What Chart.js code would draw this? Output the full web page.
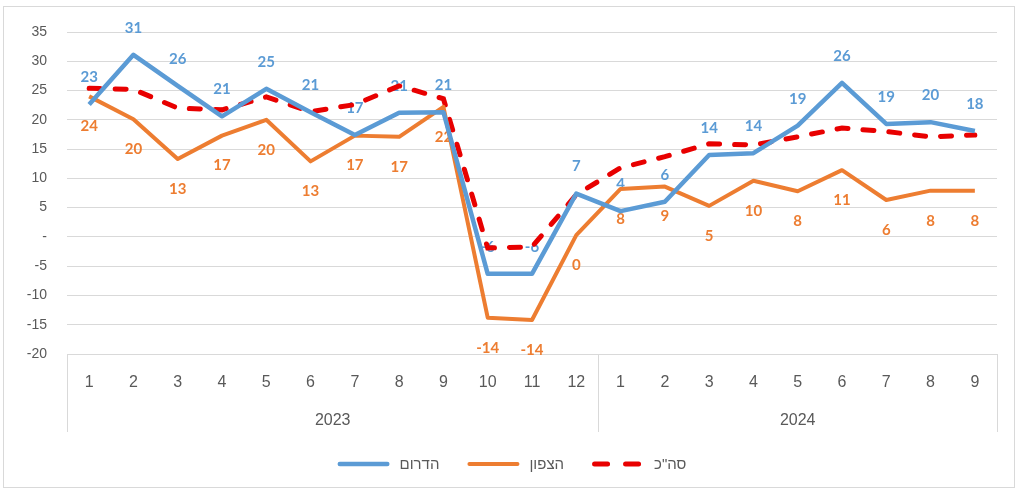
<!DOCTYPE html>
<html><head><meta charset="utf-8">
<script src="https://cdn.jsdelivr.net/npm/chart.js@4.4.0/dist/chart.umd.min.js"></script>
<style>html,body{margin:0;padding:0;background:#fff;}#wrap{width:1020px;height:493px;}</style>
</head><body><div id="wrap"><canvas id="c" width="1020" height="493"></canvas></div>
<script>
const months = ['1','2','3','4','5','6','7','8','9','10','11','12','1','2','3','4','5','6','7','8','9'];
const years = ['2023','2024'];
const monthsPerYear = [12, 9];
const southValues = [22.6,31.1,25.8,20.6,25.3,21.3,17.4,21.2,21.3,-6.3,-6.3,7.4,4.4,6.0,14.0,14.3,19.0,26.3,19.3,19.6,18.1];
const northValues = [24.0,20.1,13.3,17.3,20.0,12.9,17.3,17.1,22.2,-13.8,-14.2,0.3,8.2,8.6,5.3,9.6,7.8,11.4,6.3,7.9,7.9];
const totalValues = [25.4,25.2,22.0,21.7,23.9,21.4,22.6,25.8,23.6,-1.9,-1.7,7.2,11.8,13.7,15.9,15.7,17.1,18.6,18.0,17.1,17.4];
const seriesNames = ['הדרום','הצפון','סה"כ'];
const yMin = -20, yMax = 35, yStep = 5;

// year group centres and boundaries (in category index units)
const yearCenters = [], yearBounds = [-0.5];
(function(){ let s = 0; monthsPerYear.forEach(n => { yearCenters.push(s + (n - 1) / 2); s += n; yearBounds.push(s - 0.5); }); })();

const Y_FONT = {family: 'Liberation Sans', size: 14};
const X_FONT = {family: 'Liberation Sans', size: 16};
const AXIS_COLOR = '#595959';
const GRID_COLOR = '#d9d9d9';

const labelOffsets = [-27, 30, null];
const labelColors = ['#5B9BD5', '#ED7D31', null];

const frame = {
  id: 'frame',
  beforeDraw(chart) {
    const ctx = chart.ctx;
    ctx.save();
    ctx.strokeStyle = GRID_COLOR; ctx.lineWidth = 1;
    ctx.strokeRect(3.5, 6.5, 1011, 481);
    ctx.restore();
  },
  afterDraw(chart) {
    const ctx = chart.ctx, x = chart.scales.x, yr = chart.scales.year;
    ctx.save();
    ctx.strokeStyle = GRID_COLOR; ctx.lineWidth = 1;
    yearBounds.forEach(b => {
      const px = Math.round(x.getPixelForValue(b)) + 0.5;
      ctx.beginPath(); ctx.moveTo(px, x.top); ctx.lineTo(px, yr.top + 38); ctx.stroke();
    });
    // legend
    ctx.font = '15px "Liberation Sans"';
    ctx.textBaseline = 'middle'; ctx.textAlign = 'left';
    const lineW = 52, gapLT = 10, gapItem = 28;
    const ds = chart.data.datasets;
    const widths = ds.map(d => ctx.measureText(d.label).width);
    const total = widths.reduce((a, w) => a + lineW + gapLT + w, 0) + gapItem * (ds.length - 1);
    let lx = 512 - total / 2;
    const ly = 464;
    ds.forEach((d, i) => {
      ctx.strokeStyle = d.borderColor; ctx.lineWidth = d.borderWidth;
      ctx.lineCap = 'round';
      if (d.borderDash) ctx.setLineDash([13, 18]); else ctx.setLineDash([]);
      const r = d.borderWidth / 2;
      ctx.beginPath(); ctx.moveTo(lx + r, ly); ctx.lineTo(lx + lineW - r, ly); ctx.stroke();
      ctx.setLineDash([]);
      ctx.fillStyle = AXIS_COLOR;
      ctx.fillText(d.label, lx + lineW + gapLT, ly + 1);
      lx += lineW + gapLT + widths[i] + gapItem;
    });
    ctx.restore();
  }
};

const valueLabels = {
  id: 'valueLabels',
  beforeDatasetsDraw(chart) {
    const ctx = chart.ctx;
    ctx.save();
    ctx.font = 'bold 15px Lato';
    ctx.textAlign = 'center'; ctx.textBaseline = 'middle';
    chart.data.datasets.forEach((d, i) => {
      if (labelOffsets[i] === null) return;
      const meta = chart.getDatasetMeta(i);
      ctx.fillStyle = labelColors[i];
      meta.data.forEach((pt, j) => {
        ctx.fillText(String(Math.round(d.data[j])), pt.x, pt.y + labelOffsets[i]);
      });
    });
    ctx.restore();
  }
};

new Chart(document.getElementById('c'), {
  type: 'line',
  data: {
    labels: months,
    datasets: [
      {label: seriesNames[0], data: southValues, borderColor: '#5B9BD5', backgroundColor: '#5B9BD5', borderWidth: 4.5, pointRadius: 0, tension: 0, borderJoinStyle: 'round'},
      {label: seriesNames[1], data: northValues, borderColor: '#ED7D31', backgroundColor: '#ED7D31', borderWidth: 4, pointRadius: 0, tension: 0, borderJoinStyle: 'round'},
      {label: seriesNames[2], data: totalValues, borderColor: '#E80000', backgroundColor: '#E80000', borderWidth: 5, borderDash: [11, 15], borderCapStyle: 'round', pointRadius: 0, tension: 0}
    ]
  },
  options: {
    responsive: false,
    animation: false,
    devicePixelRatio: 1,
    layout: {padding: {left: 7, right: 23, top: 32, bottom: 55}},
    plugins: {legend: {display: false}, tooltip: {enabled: false}},
    scales: {
      y: {
        min: yMin, max: yMax,
        ticks: {stepSize: yStep, font: Y_FONT, color: AXIS_COLOR, padding: 20,
          callback: v => v === 0 ? '-' : String(v)},
        grid: {color: GRID_COLOR, drawTicks: false},
        border: {display: false},
        afterFit(s) { s.width = 60; }
      },
      x: {
        type: 'category',
        position: 'bottom',
        offset: true,
        ticks: {font: X_FONT, color: AXIS_COLOR, padding: 19, maxRotation: 0, autoSkip: false},
        grid: {display: false, drawTicks: false},
        border: {display: true, color: GRID_COLOR, width: 1},
        afterFit(s) { s.height = 40; }
      },
      year: {
        type: 'linear',
        position: 'bottom',
        min: -0.5, max: months.length - 0.5,
        afterBuildTicks(s) { s.ticks = yearCenters.map(v => ({value: v})); },
        ticks: {font: X_FONT, color: AXIS_COLOR, padding: 17, maxRotation: 0, autoSkip: false,
          callback: (v, i) => years[i]},
        grid: {display: false, drawTicks: false},
        border: {display: false},
        afterFit(s) { s.height = 44; }
      }
    }
  },
  plugins: [frame, valueLabels]
});
</script>
</body></html>
